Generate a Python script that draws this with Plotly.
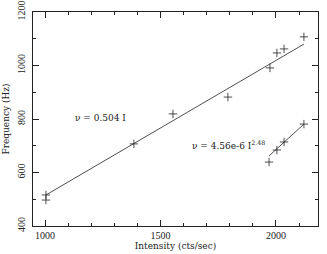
import plotly.graph_objects as go

# measured points (intensity in cts/sec, frequency in Hz)
intensity = [1004, 1004, 1385, 1554, 1792, 1974, 2004, 2035, 2121]
frequency = [516, 497, 707, 819, 882, 991, 1047, 1062, 1107]

# linear fit  nu = 0.504 I
fit_lin_x = [1004, 2121]
fit_lin_y = [516, 1080]

# second group of points and its power-law fit
intensity2 = [1970, 2004, 2035, 2121]
frequency2 = [639, 684, 714, 781]
fit_pow_x = [1970, 2121]
fit_pow_y = [662, 781]

tick_font = "Liberation Serif"
text_font = "DejaVu Serif"
ink = "#222"

fig = go.Figure()

fig.add_trace(go.Scatter(x=fit_lin_x, y=fit_lin_y, mode="lines",
                         line=dict(color=ink, width=0.8)))
fig.add_trace(go.Scatter(x=fit_pow_x, y=fit_pow_y, mode="lines",
                         line=dict(color=ink, width=0.8)))
fig.add_trace(go.Scatter(x=intensity, y=frequency, mode="markers",
                         marker=dict(symbol="cross-thin", size=6,
                                     line=dict(color=ink, width=0.8))))
fig.add_trace(go.Scatter(x=intensity2, y=frequency2, mode="markers",
                         marker=dict(symbol="cross-thin", size=6,
                                     line=dict(color=ink, width=0.8))))

fig.add_annotation(x=1120, y=804, text="ν = 0.504 I",
                   showarrow=False, xanchor="left", yanchor="middle",
                   font=dict(size=9, family=text_font, color=ink))
fig.add_annotation(x=1627, y=702,
                   text="ν = 4.56e-6 I<sup>2.48</sup>",
                   showarrow=False, xanchor="left", yanchor="middle",
                   font=dict(size=9, family=text_font, color=ink))

axis_common = dict(
    showline=True, linecolor=ink, linewidth=1, mirror="allticks",
    ticks="inside", ticklen=6, tickcolor=ink, tickwidth=1,
    showgrid=False, zeroline=False, automargin=False,
    tickfont=dict(size=10, family=tick_font, color=ink),
)

fig.update_xaxes(range=[948, 2182], dtick=500, tick0=1000,
                 minor=dict(ticks="inside", dtick=100, ticklen=3, tickcolor=ink),
                 title=dict(text="Intensity (cts/sec)", standoff=2,
                            font=dict(size=9, family=text_font, color=ink)),
                 **axis_common)
fig.update_yaxes(range=[400, 1200], dtick=200, tickangle=-90,
                 ticklabelstandoff=3,
                 minor=dict(ticks="inside", dtick=100, ticklen=3, tickcolor=ink),
                 title=dict(text="Frequency (Hz)", standoff=4,
                            font=dict(size=9, family=text_font, color=ink)),
                 **axis_common)

fig.update_layout(
    width=327, height=254,
    margin=dict(l=33, r=9, t=12, b=28),
    plot_bgcolor="white", paper_bgcolor="white",
    showlegend=False,
)

# drop the page's default body margin so the figure sits at the window corner
fig.write_html("out.html", config={"displayModeBar": False},
               post_script="document.body.style.margin='0';")
